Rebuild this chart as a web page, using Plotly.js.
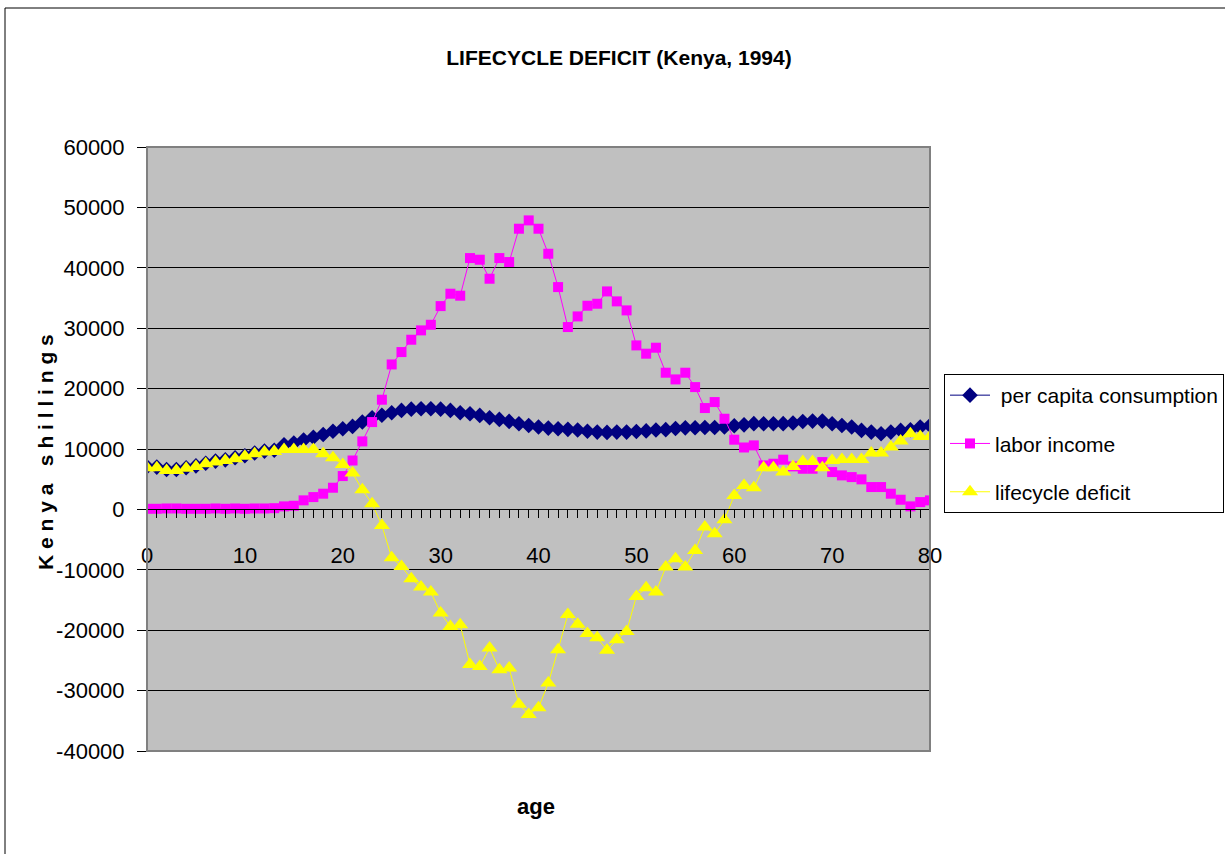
<!DOCTYPE html>
<html>
<head>
<meta charset="utf-8">
<script src="https://cdn.plot.ly/plotly-3.0.1.min.js"></script>
<style>html,body{margin:0;padding:0;background:#fff;}#chart{width:1225px;height:854px;}</style>
</head>
<body>
<div id="chart"></div>
<script>
const ages = [];
for (let a = 0; a <= 80; a++) ages.push(a);

const consumption = [7050, 7000, 6600, 6600, 6900, 7200, 7650, 8000, 8200, 8550,
  8880, 9350, 9650, 9800, 10700, 11000, 11500, 11950, 12400, 12950,
  13350, 13740, 14460, 15180, 15600, 16000, 16390, 16600, 16670, 16670,
  16600, 16390, 16000, 15840, 15560, 15180, 14900, 14570, 14180, 13900,
  13630, 13460, 13350, 13250, 13150, 12950, 12800, 12750, 12800, 12800,
  12900, 13000, 13150, 13200, 13400, 13500, 13520, 13550, 13550, 13650,
  13850, 14000, 14200, 14180, 14180, 14200, 14300, 14550, 14620, 14620,
  14180, 13900, 13630, 13080, 12800, 12530, 12800, 13080, 13190, 13630, 13900];

const laborIncome = [100, 100, 150, 150, 100, 100, 100, 150, 100, 150,
  100, 150, 150, 200, 500, 600, 1500, 2040, 2600, 3590,
  5520, 8100, 11260, 14460, 18160, 24000, 26050, 28090, 29640, 30570,
  33660, 35710, 35380, 41610, 41340, 38190, 41610, 40950, 46470, 47850,
  46470, 42330, 36810, 30190, 31950, 33720, 34050, 36090, 34440, 32950,
  27150, 25780, 26770, 22630, 21520, 22630, 20250, 16780, 17770, 15010,
  11540, 10250, 10600, 7280, 7560, 8230, 7120, 6730, 6730, 7840,
  6180, 5630, 5350, 4970, 3700, 3700, 2600, 1600, 500, 1210, 1490];

const lifecycleDeficit = [6900, 6900, 6450, 6450, 6800, 7100, 7550, 7850, 8100, 8400,
  8780, 9200, 9500, 9600, 9930, 9930, 9930, 9900, 9200, 8550,
  7450, 6010, 3260, 940, -2650, -8000, -9440, -11480, -12860, -13690,
  -17160, -19370, -19100, -25660, -25990, -22960, -26540, -26270, -32280, -33940,
  -32840, -28750, -23230, -17380, -19000, -20530, -21250, -23340, -21580, -20200,
  -14400, -12970, -13690, -9550, -8160, -9550, -6790, -2930, -4030, -1710,
  2300, 3970, 3590, 6900, 6900, 6180, 7120, 7950, 7950, 6900,
  8110, 8280, 8280, 8280, 9320, 9320, 10320, 11310, 12530, 12090, 12090];

const seriesNames = [' per capita consumption', 'labor income', 'lifecycle deficit'];
const yTickVals = [-40000, -30000, -20000, -10000, 0, 10000, 20000, 30000, 40000, 50000, 60000];
const xTickVals = [0, 10, 20, 30, 40, 50, 60, 70, 80];

const FONT = '"Liberation Sans", Arial, sans-serif';

const traces = [
  {x: ages, y: consumption, name: seriesNames[0], legendgroup: 'a', mode: 'lines+markers',
   line: {color: '#000080', width: 1}, marker: {symbol: 'diamond', size: 12, color: '#000080'}},
  {x: ages, y: laborIncome, name: seriesNames[1], legendgroup: 'b', mode: 'lines+markers',
   line: {color: '#FF00FF', width: 1}, marker: {symbol: 'square', size: 10, color: '#FF00FF'}},
  {x: ages, y: lifecycleDeficit, name: seriesNames[2], legendgroup: 'c', mode: 'lines+markers',
   line: {color: '#FFFF00', width: 1}, marker: {symbol: 'triangle-up', size: 14, color: '#FFFF00'}}
];

const L = 147, R = 1225 - 930, T = 147, B = 854 - 751;
const pw = 1225 - L - R, ph = 854 - T - B;

const layout = {
  width: 1225, height: 854,
  margin: {l: L, r: R, t: T, b: B, pad: 0},
  paper_bgcolor: '#ffffff',
  plot_bgcolor: '#c0c0c0',
  font: {family: FONT, size: 21, color: '#000'},
  title: {text: '<b>LIFECYCLE DEFICIT (Kenya, 1994)</b>', font: {family: FONT, size: 21, color: '#000'},
          x: 619/1225, xref: 'container', xanchor: 'center', y: 1 - 58/854, yref: 'container', yanchor: 'middle'},
  showlegend: true,
  legend: {
    xref: 'container', yref: 'container', x: 944/1225, y: 1 - 374/854, xanchor: 'left', yanchor: 'top',
    bgcolor: '#ffffff', bordercolor: '#000000', borderwidth: 1,
    font: {family: FONT, size: 21, color: '#000'},
    traceorder: 'grouped', tracegroupgap: 18, itemwidth: 40
  },
  xaxis: {
    range: [0, 80], tickvals: xTickVals, ticktext: xTickVals.map(String),
    anchor: 'free', position: 0.4,
    showline: true, linecolor: '#000', linewidth: 1,
    ticks: 'outside', ticklen: 8, tickcolor: '#000', tickwidth: 1,
    minor: {dtick: 1, ticks: 'outside', ticklen: 8, tickcolor: '#000', tickwidth: 1, showgrid: false},
    showgrid: false, zeroline: false,
    tickfont: {family: FONT, size: 22, color: '#000'},
    ticklabelstandoff: 18,
    fixedrange: true
  },
  yaxis: {
    range: [-40000, 60000], tickvals: yTickVals, ticktext: yTickVals.map(String),
    showline: false,
    ticks: 'outside', ticklen: 9, tickcolor: '#000', tickwidth: 1,
    showgrid: true, gridcolor: '#000', gridwidth: 1, zeroline: false,
    tickfont: {family: FONT, size: 22, color: '#000'},
    ticklabelstandoff: 8,
    fixedrange: true
  },
  shapes: [
    {type: 'rect', xref: 'paper', yref: 'paper', x0: 0, x1: 1, y0: 0, y1: 1,
     line: {color: '#808080', width: 2}, fillcolor: 'rgba(0,0,0,0)', layer: 'above'},
    {type: 'line', xref: 'paper', yref: 'paper', x0: (5 - L)/pw, x1: (1225 - L)/pw, y0: (751 - 8)/ph, y1: (751 - 8)/ph,
     line: {color: '#000', width: 1}},
    {type: 'line', xref: 'paper', yref: 'paper', x0: (5 - L)/pw, x1: (5 - L)/pw, y0: (751 - 8)/ph, y1: (751 - 860)/ph,
     line: {color: '#000', width: 1}}
  ],
  annotations: [
    {text: '<b>age</b>', xref: 'paper', yref: 'paper', x: (536 - L)/pw, y: (751 - 806)/ph,
     xanchor: 'center', yanchor: 'middle', showarrow: false, font: {family: FONT, size: 22, color: '#000'}},
    {text: '<b>K e n y a   s h i l l i n g s</b>', xref: 'paper', yref: 'paper', x: (45 - L)/pw, y: (751 - 452)/ph,
     xanchor: 'center', yanchor: 'middle', textangle: -90, showarrow: false, font: {family: FONT, size: 21, color: '#000'}}
  ]
};

Plotly.newPlot('chart', traces, layout, {displayModeBar: false, staticPlot: true});
</script>
</body>
</html>
